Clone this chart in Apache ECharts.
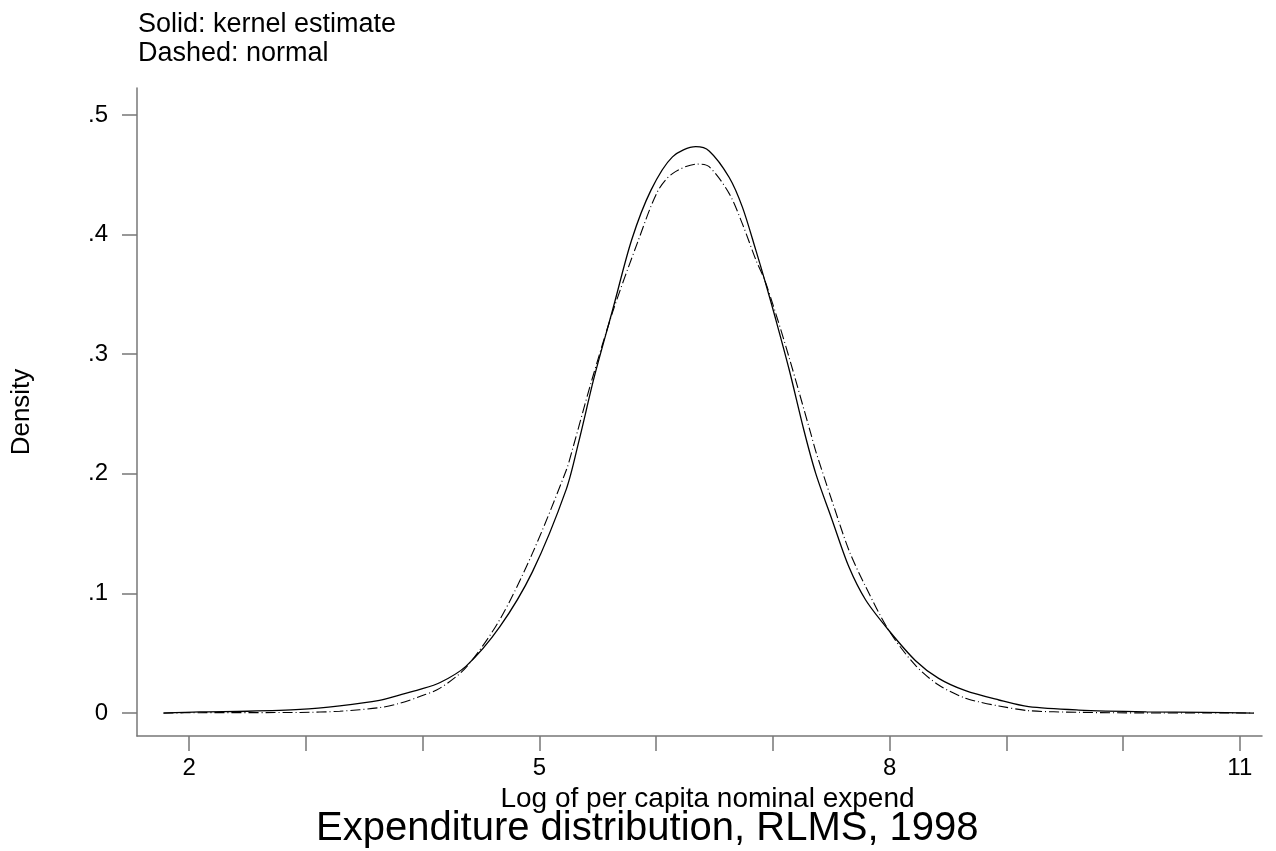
<!DOCTYPE html>
<html>
<head>
<meta charset="utf-8">
<script src="https://cdn.jsdelivr.net/npm/echarts@6/dist/echarts.min.js"></script>
<style>
html,body{margin:0;padding:0;background:#fff;}
#chart{width:1276px;height:851px;}
</style>
</head>
<body>
<div id="chart"></div>
<script>
// Kernel density estimate (solid)
const kernelX = [1.78, 2.09, 2.50, 2.95, 3.29, 3.63, 3.80, 3.97, 4.15, 4.37, 4.66, 4.94, 5.23, 5.34, 5.47, 5.63, 5.79, 5.955, 6.14, 6.34, 6.454, 6.625, 6.739, 6.854, 6.93, 7.025, 7.14, 7.267, 7.367, 7.509, 7.652, 7.795, 7.994, 8.22, 8.42, 8.65, 8.936, 9.19, 9.62, 10.2, 10.7, 11.12];
const kernelY = [0.000, 0.001, 0.0015, 0.003, 0.006, 0.0105, 0.0150, 0.0195, 0.0255, 0.039, 0.072, 0.118, 0.187, 0.228, 0.281, 0.338, 0.3955, 0.437, 0.465, 0.4735, 0.470, 0.448, 0.423, 0.387, 0.362, 0.329, 0.287, 0.236, 0.2004, 0.161, 0.122, 0.0945, 0.069, 0.044, 0.029, 0.0187, 0.0109, 0.0053, 0.0025, 0.001, 0.0005, 0.000];
// Normal density (dashed)
const normalX = [1.78, 2.09, 2.95, 3.29, 3.63, 3.80, 3.97, 4.145, 4.37, 4.66, 4.94, 5.23, 5.285, 5.442, 5.63, 5.841, 6.012, 6.14, 6.35, 6.454, 6.625, 6.739, 6.854, 6.93, 7.025, 7.14, 7.324, 7.367, 7.509, 7.652, 7.795, 7.994, 8.22, 8.42, 8.65, 8.76, 8.936, 9.19, 9.62, 10.2, 11.12];
const normalY = [0.000, 0.0003, 0.0005, 0.0015, 0.0045, 0.008, 0.0136, 0.0206, 0.038, 0.078, 0.1335, 0.203, 0.221, 0.276, 0.336, 0.3935, 0.436, 0.451, 0.459, 0.4568, 0.4345, 0.409, 0.379, 0.362, 0.334, 0.297, 0.234, 0.219, 0.1767, 0.136, 0.1056, 0.069, 0.040, 0.0234, 0.0123, 0.0095, 0.0059, 0.002, 0.0006, 0.0001, 0.000];

const xTicks = [2, 3, 4, 5, 6, 7, 8, 9, 10, 11];
const xLabels = [2, 5, 8, 11];
const yTicks = [0, 0.1, 0.2, 0.3, 0.4, 0.5];

const titleText = 'Expenditure distribution, RLMS, 1998';
const noteText = 'Solid: kernel estimate\nDashed: normal';
const xName = 'Log of per capita nominal expend';
const yName = 'Density';

const zip = (xs, ys) => xs.map((x, i) => [x, ys[i]]);
const FONT = '"Liberation Sans", Arial, sans-serif';
const axisColor = '#777';

const chart = echarts.init(document.getElementById('chart'), null, {renderer: 'canvas'});
chart.setOption({
  backgroundColor: '#fff',
  animation: false,
  title: [
    {
      text: noteText, left: 138, top: 10, padding: 0,
      textStyle: {fontFamily: FONT, fontSize: 27, fontWeight: 'normal', color: '#000', lineHeight: 29}
    },
    {
      text: titleText, left: 316, top: 809, padding: 0,
      textStyle: {fontFamily: FONT, fontSize: 40, fontWeight: 'normal', color: '#000'}
    }
  ],
  grid: {left: 137, right: 14, top: 88, bottom: 115, containLabel: false},
  xAxis: {
    type: 'value', min: 1.553, max: 11.19,
    name: xName, nameLocation: 'middle', nameGap: 43,
    nameTextStyle: {fontFamily: FONT, fontSize: 28, color: '#000', padding: [0, 0, 0, 16]},
    splitLine: {show: false},
    axisLine: {show: true, onZero: false, lineStyle: {color: axisColor, width: 1.5}},
    axisTick: {show: true, inside: false, length: 15, customValues: xTicks, lineStyle: {color: axisColor, width: 1.5}},
    axisLabel: {show: true, margin: 20, customValues: xLabels, fontFamily: FONT, fontSize: 24, color: '#000'}
  },
  yAxis: {
    type: 'value', min: -0.0192, max: 0.5226,
    name: yName, nameLocation: 'middle', nameGap: 102, nameRotate: 90,
    nameTextStyle: {fontFamily: FONT, fontSize: 26, color: '#000'},
    splitLine: {show: false},
    axisLine: {show: true, onZero: false, lineStyle: {color: axisColor, width: 1.5}},
    axisTick: {show: true, length: 15, customValues: yTicks, lineStyle: {color: axisColor, width: 1.5}},
    axisLabel: {
      show: true, margin: 29, customValues: yTicks, fontFamily: FONT, fontSize: 24, color: '#000',
      formatter: v => (v === 0 ? '0' : String(v).replace(/^0/, ''))
    }
  },
  series: [
    {
      name: 'Kernel', type: 'line', data: zip(kernelX, kernelY),
      showSymbol: false, smooth: 0.3,
      lineStyle: {color: '#000', width: 1.3, type: 'solid'}
    },
    {
      name: 'Normal', type: 'line', data: zip(normalX, normalY),
      showSymbol: false, smooth: 0.3,
      lineStyle: {color: '#000', width: 1.1, type: [10, 3, 1, 3]}
    }
  ]
});
</script>
</body>
</html>
